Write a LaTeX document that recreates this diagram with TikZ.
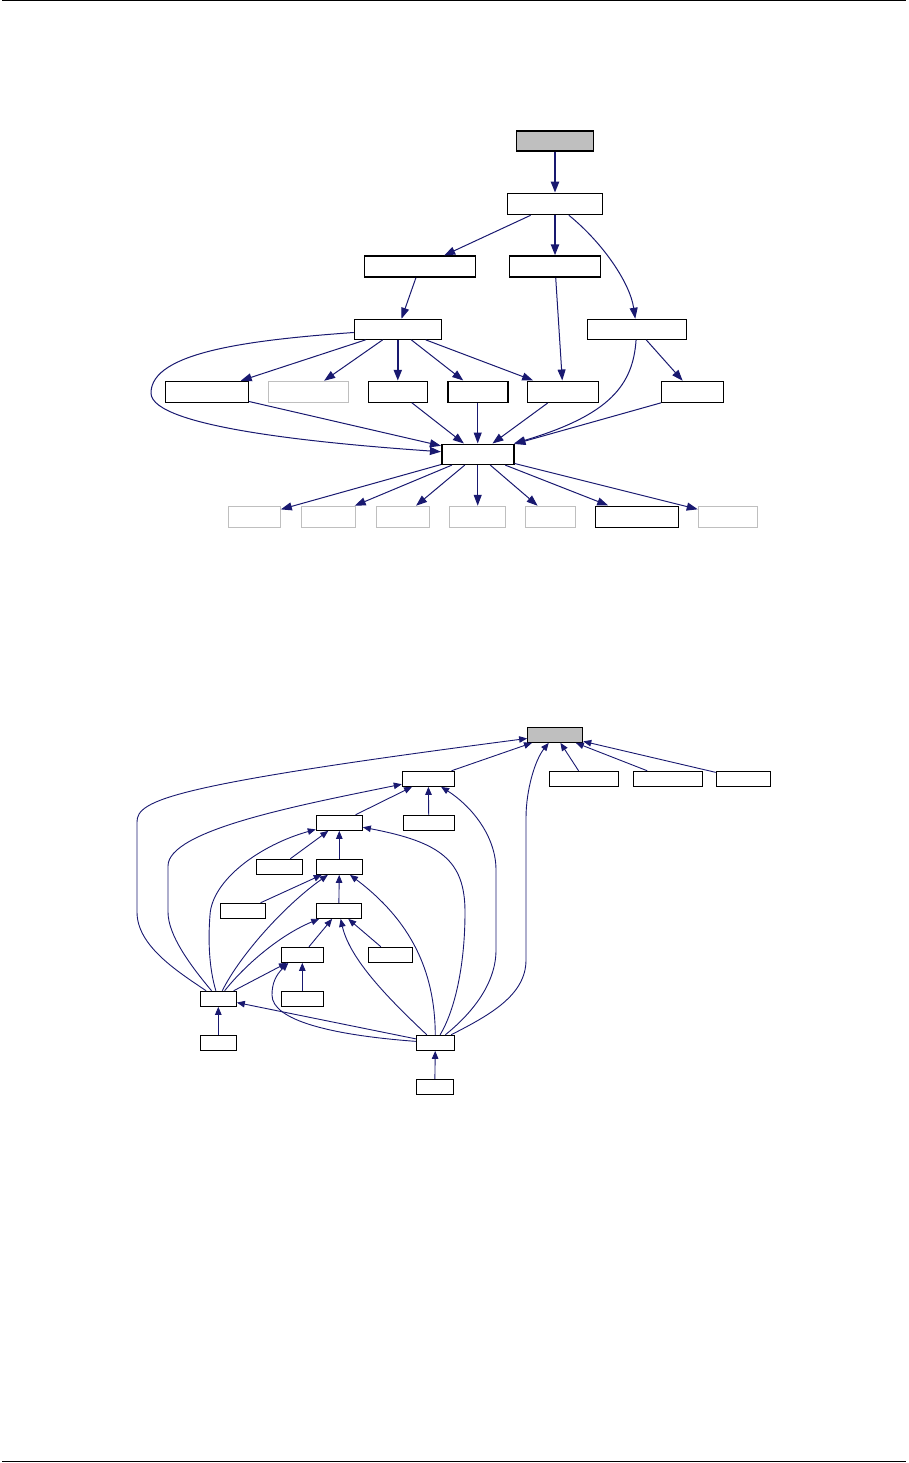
\documentclass[tikz,border=0pt]{standalone}
\usepackage{tikz}
\usetikzlibrary{calc, arrows.meta}
\definecolor{edgeblue}{RGB}{25,25,112}
\definecolor{nodegray}{RGB}{191,191,191}

\begin{document}
\begin{tikzpicture}[x=1pt, y=-1pt,
  box/.style={draw=black, fill=white, line width=1.1pt, minimum height=21pt, inner sep=0pt},
  boldbox/.style={box, line width=1.6pt},
  greybox/.style={box, draw=nodegray},
  rootbox/.style={box, fill=nodegray},
  smallbox/.style={box, minimum height=15pt},
  link/.style={draw=edgeblue, line width=1pt, -{Triangle[length=11pt, width=8pt]}},
  boldlink/.style={link, line width=2.2pt},
  dep/.style={draw=edgeblue, line width=0.9pt, -{Triangle[length=8pt, width=6.5pt]}},
]
  \useasboundingbox (0,0) rectangle (908,1463);
  \draw[line width=1pt] (2,0.8) -- (906,0.8);
  \draw[line width=1pt] (2,1461.8) -- (906,1461.8);

  % upper graph
  \node[rootbox, minimum width=77pt, minimum height=20pt] (a) at (555,141) {};
  \node[boldbox, minimum width=95pt] (b) at (555,204) {};
  \node[boldbox, minimum width=111pt] (c) at (419.8,266.7) {};
  \node[boldbox, minimum width=91pt] (d) at (555,266.7) {};
  \node[box, minimum width=87pt, minimum height=20pt] (e) at (397.8,329.3) {};
  \node[box, minimum width=99pt, minimum height=20pt] (f) at (636.8,329.3) {};
  \node[box, minimum width=83pt] (g) at (207,391.8) {};
  \node[greybox, minimum width=80pt] (h) at (308.3,391.8) {};
  \node[box, minimum width=59pt] (i) at (397.8,391.8) {};
  \node[boldbox, minimum width=60pt] (j) at (477.7,391.8) {};
  \node[boldbox, minimum width=71pt] (k) at (563,391.8) {};
  \node[box, minimum width=62pt] (l) at (692.5,391.8) {};
  \node[boldbox, minimum width=72pt, minimum height=20pt] (m) at (477.7,454.3) {};
  \node[greybox, minimum width=52pt] (n1) at (254.3,516.8) {};
  \node[greybox, minimum width=54pt] (n2) at (328.3,516.8) {};
  \node[greybox, minimum width=53pt] (n3) at (402.8,516.8) {};
  \node[greybox, minimum width=56pt] (n4) at (477.7,516.8) {};
  \node[greybox, minimum width=50pt] (n5) at (550.5,516.8) {};
  \node[boldbox, minimum width=83pt] (n6) at (637,516.8) {};
  \node[greybox, minimum width=59pt] (n7) at (727.8,516.8) {};

  \draw[boldlink] (a) -- (b);
  \draw[link] (b) -- (c);
  \draw[boldlink] (b) -- (d);
  \draw[link] (b) .. controls (603,243) and (630,283) .. (f);
  \draw[link] (c) -- (e);
  \draw[link] (d) -- (k);
  \draw[link] (e) -- (g);
  \draw[link] (e) -- (h);
  \draw[boldlink] (e) -- (i);
  \draw[link] (e) -- (j);
  \draw[link] (e) -- (k);
  \draw[link] (e) .. controls (250,340) and (151,352) .. (151,393)
    .. controls (151,428) and (330,444) .. (m);
  \draw[link] (f) -- (l);
  \draw[link] (g) -- (m);
  \draw[link] (i) -- (m);
  \draw[link] (j) -- (m);
  \draw[link] (k) -- (m);
  \draw[link] (l.south west) -- (m);
  \draw[link] (f) .. controls (633,385) and (610,415) .. (m);
  \draw[link] (m) -- (n1);
  \draw[link] (m) -- (n2);
  \draw[link] (m) -- (n3);
  \draw[link] (m) -- (n4);
  \draw[link] (m) -- (n5);
  \draw[link] (m) -- (n6);
  \draw[link] (m) -- (n7);

  % lower graph
  \node[smallbox, fill=nodegray, minimum width=55pt] (r) at (555.2,734.8) {};
  \node[smallbox, minimum width=52pt] (s) at (428.3,778.8) {};
  \node[smallbox, minimum width=69pt] (t1) at (583.8,778.8) {};
  \node[smallbox, minimum width=69pt] (t2) at (667.8,778.8) {};
  \node[smallbox, minimum width=54pt] (t3) at (743.3,778.8) {};
  \node[smallbox, minimum width=51pt] (u) at (428.8,822.8) {};
  \node[smallbox, minimum width=46pt] (v) at (339.3,822.8) {};
  \node[smallbox, minimum width=46pt] (w1) at (279.3,866.8) {};
  \node[smallbox, minimum width=46pt] (w2) at (339.3,866.8) {};
  \node[smallbox, minimum width=45pt] (x1) at (243,910.8) {};
  \node[smallbox, minimum width=45pt] (x2) at (338.8,910.8) {};
  \node[smallbox, minimum width=42pt] (y1) at (302.3,954.8) {};
  \node[smallbox, minimum width=44pt] (y2) at (390.3,954.8) {};
  \node[smallbox, minimum width=36pt] (z1) at (218.3,998.8) {};
  \node[smallbox, minimum width=42pt] (z2) at (302.3,998.8) {};
  \node[smallbox, minimum width=36pt] (q1) at (218.3,1042.8) {};
  \node[smallbox, minimum width=38pt] (q2) at (435.3,1042.8) {};
  \node[smallbox, minimum width=37pt] (q3) at (434.8,1086.8) {};

  \draw[dep] (s) -- (r);
  \draw[dep] (t1) -- (r);
  \draw[dep] (t2) -- (r);
  \draw[dep] (t3) -- (r);
  \draw[dep] (u) -- (s);
  \draw[dep] (v) -- (s);
  \draw[dep] (w1) -- (v);
  \draw[dep] (w2) -- (v);
  \draw[dep] (x1) -- (w2);
  \draw[dep] (x2) -- (w2);
  \draw[dep] (y1) -- (x2);
  \draw[dep] (y2) -- (x2);
  \draw[dep] (z2) -- (y1);
  \draw[dep] (z1) -- (y1);
  \draw[dep] (q1) -- (z1);
  \draw[dep] (q3) -- (q2);
  \draw[dep] (q2) -- (z1);
  % long ones from z1
  \draw[dep] (z1) .. controls (175,970) and (137,945) .. (137,912) -- (137,822)
    .. controls (137,800) and (170,785) .. (r);
  \draw[dep] (z1) .. controls (190,965) and (168,935) .. (168,912) -- (168,866)
    .. controls (168,830) and (300,805) .. (s);
  \draw[dep] (z1) .. controls (209,968) and (208,940) .. (210,915)
    .. controls (212,880) and (260,845) .. (v);
  \draw[dep] (z1) .. controls (240,955) and (285,905) .. (w2);
  \draw[dep] (z1) .. controls (245,965) and (280,935) .. (x2);
  % long ones from q2
  \draw[dep] (q2) .. controls (330,1035) and (272,1020) .. (272,995)
    .. controls (272,983) and (276,975) .. (y1.-150);
  \draw[dep] (q2) .. controls (390,1000) and (350,960) .. (x2);
  \draw[dep] (q2) .. controls (435,970) and (410,920) .. (w2);
  \draw[dep] (q2) .. controls (455,1010) and (465,965) .. (465,912)
    .. controls (465,860) and (440,842) .. (v);
  \draw[dep] (q2) .. controls (470,1015) and (496,985) .. (496,950) -- (496,870)
    .. controls (496,835) and (470,805) .. (s);
  \draw[dep] (q2) .. controls (490,1015) and (526,995) .. (526,960) -- (526,818)
    .. controls (526,790) and (535,760) .. (r);
\end{tikzpicture}
\end{document}
